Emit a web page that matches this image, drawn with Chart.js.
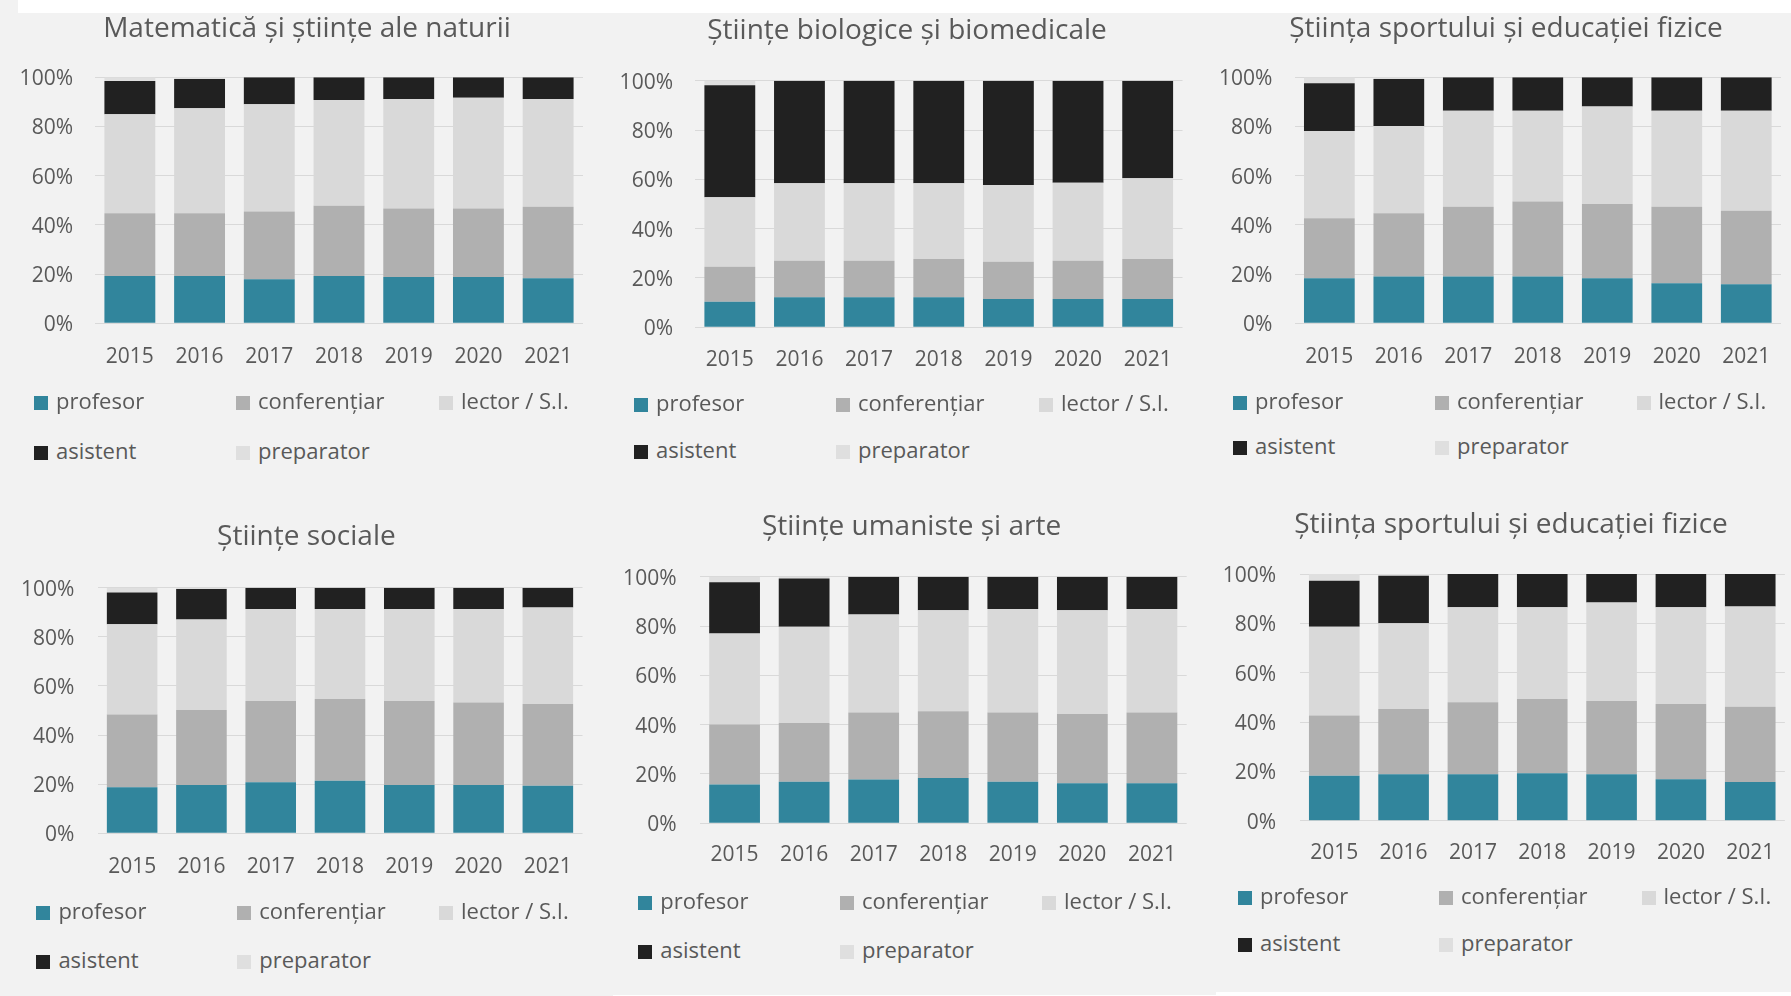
<!doctype html>
<html lang="ro">
<head>
<meta charset="utf-8">
<title>Personal didactic pe domenii 2015-2021</title>
<style>
  html, body { margin: 0; padding: 0; }
  body { width: 1791px; height: 996px; position: relative; overflow: hidden; background: #f2f2f2; font-family: "Open Sans", sans-serif; }
  .strip { position: absolute; background: #ffffff; }
  .panel { position: absolute; }
  .title { position: absolute; width: 600px; text-align: center; color: #595959; font-size: 28px; line-height: 34px; white-space: nowrap; }
  .leg { position: absolute; height: 24px; color: #595959; font-size: 22px; white-space: nowrap; }
  .leg .box { position: absolute; left: 0; top: 8px; width: 14px; height: 14px; }
  .leg .txt { position: absolute; left: 22px; top: 0; line-height: 24px; }
</style>
</head>
<body>
<div class="strip" style="left:18px;top:0;width:1773px;height:13px"></div>
<div class="strip" style="left:613px;top:995px;width:603px;height:1px"></div>
<div class="strip" style="left:1216px;top:992px;width:575px;height:4px"></div>

<script src="https://cdn.jsdelivr.net/npm/chart.js"></script>
<script>
// --- data (procente) ---
const years = ['2015', '2016', '2017', '2018', '2019', '2020', '2021'];
const seriesNames = ['profesor', 'conferențiar', 'lector / S.I.', 'asistent', 'preparator'];
const yTicks = [0, 20, 40, 60, 80, 100];

// ordinea: profesor, conferențiar, lector, asistent, preparator
const matematica = [
  [19.2, 19.2, 17.9, 19.2, 18.8, 18.8, 18.3],
  [25.5, 25.5, 27.5, 28.6, 27.9, 27.9, 29.1],
  [40.3, 42.7, 43.6, 43.0, 44.5, 45.0, 43.8],
  [13.5, 11.9, 11.0, 9.2, 8.8, 8.3, 8.8],
  [1.5, 0.7, 0, 0, 0, 0, 0]
];
const biologice = [
  [10.4, 12.2, 12.2, 12.2, 11.5, 11.5, 11.5],
  [14.2, 14.8, 14.8, 15.5, 15.1, 15.5, 16.2],
  [28.1, 31.4, 31.4, 30.7, 31.1, 31.6, 32.7],
  [45.5, 41.6, 41.6, 41.6, 42.3, 41.4, 39.6],
  [1.8, 0, 0, 0, 0, 0, 0]
];
const sport1 = [
  [18.3, 19.0, 19.0, 19.0, 18.3, 16.3, 15.9],
  [24.4, 25.7, 28.4, 30.5, 30.2, 31.1, 29.9],
  [35.5, 35.5, 39.0, 36.9, 39.6, 39.0, 40.6],
  [19.4, 19.1, 13.6, 13.6, 11.9, 13.6, 13.6],
  [2.4, 0.7, 0, 0, 0, 0, 0]
];
const sociale = [
  [18.7, 19.7, 20.8, 21.4, 19.7, 19.7, 19.4],
  [29.7, 30.5, 33.1, 33.3, 34.2, 33.6, 33.2],
  [36.7, 36.9, 37.4, 36.6, 37.4, 38.0, 39.3],
  [12.9, 12.4, 8.7, 8.7, 8.7, 8.7, 8.1],
  [2.0, 0.5, 0, 0, 0, 0, 0]
];
const umaniste = [
  [15.7, 16.8, 17.8, 18.4, 16.8, 16.2, 16.2],
  [24.4, 23.9, 27.1, 27.0, 28.1, 28.1, 28.7],
  [36.9, 39.0, 39.8, 41.0, 42.0, 42.1, 42.0],
  [20.7, 19.6, 15.3, 13.6, 13.1, 13.6, 13.1],
  [2.3, 0.7, 0, 0, 0, 0, 0]
];
const sport2 = [
  [18.2, 18.8, 18.8, 19.2, 18.8, 16.8, 15.7],
  [24.4, 26.5, 29.2, 30.1, 29.7, 30.5, 30.5],
  [36.0, 34.7, 38.5, 37.2, 39.9, 39.2, 40.6],
  [18.7, 19.3, 13.5, 13.5, 11.6, 13.5, 13.2],
  [2.7, 0.7, 0, 0, 0, 0, 0]
];

// --- stil ---
const colors = ['#31859c', '#b0b0b0', '#d9d9d9', '#212121', '#dfdfdf'];
const textColor = '#595959';
const FONT = '"Open Sans", sans-serif';
const TICK_SIZE = 21;

// pozitia fiecarui panou in imagine
const panels = [
  { title: 'Matematică și științe ale naturii', values: matematica,
    plotL: 95, plotR: 583, plotT: 77.3, plotB: 323.3, titleX: 307, titleY: 27, yLabR: 73, xLabY: 356,
    legX: [34, 236, 439], legY: [403, 453] },
  { title: 'Științe biologice și biomedicale', values: biologice,
    plotL: 695, plotR: 1182.5, plotT: 80.7, plotB: 327.3, titleX: 907, titleY: 29.3, yLabR: 673, xLabY: 358.3,
    legX: [634, 836, 1039], legY: [405, 452] },
  { title: 'Știința sportului și educației fizice', values: sport1,
    plotL: 1294.6, plotR: 1781, plotT: 77.3, plotB: 323.3, titleX: 1506, titleY: 26.5, yLabR: 1272.4, xLabY: 356,
    legX: [1233, 1435, 1636.5], legY: [402.7, 448.3] },
  { title: 'Științe sociale', values: sociale,
    plotL: 97.5, plotR: 582.5, plotT: 587.7, plotB: 833.3, titleX: 306.4, titleY: 535, yLabR: 74.3, xLabY: 865.7,
    legX: [36.4, 237.2, 439], legY: [913.3, 961.7] },
  { title: 'Științe umaniste și arte', values: umaniste,
    plotL: 699.8, plotR: 1186.7, plotT: 576.7, plotB: 823.3, titleX: 911.5, titleY: 525, yLabR: 676.5, xLabY: 854,
    legX: [638.3, 840, 1042], legY: [902.7, 951.7] },
  { title: 'Știința sportului și educației fizice', values: sport2,
    plotL: 1299.6, plotR: 1784.9, plotT: 574, plotB: 820.7, titleX: 1511, titleY: 523, yLabR: 1276.2, xLabY: 851.7,
    legX: [1238, 1439, 1641.5], legY: [898.3, 945] }
];

function makeTitle(p) {
  const t = document.createElement('div');
  t.className = 'title';
  t.style.left = (p.titleX - 300) + 'px';
  t.style.top = (p.titleY - 18) + 'px';
  t.textContent = p.title;
  document.body.appendChild(t);
}

function makeLegend(p) {
  seriesNames.forEach((name, i) => {
    const item = document.createElement('div');
    item.className = 'leg';
    item.style.left = p.legX[i % 3] + 'px';
    item.style.top = (p.legY[Math.floor(i / 3)] - 15) + 'px';
    const box = document.createElement('span');
    box.className = 'box';
    box.style.background = colors[i];
    const txt = document.createElement('span');
    txt.className = 'txt';
    txt.textContent = name;
    item.appendChild(box);
    item.appendChild(txt);
    document.body.appendChild(item);
  });
}

function makePanel(p) {
  const tickLine = TICK_SIZE * 1.2;
  const yPad = p.plotL - p.yLabR;
  // Chart.js pads the y scale by half a label plus ticks.padding, so leave room above
  const ct = Math.round(p.plotT - 42);
  const padTop = p.plotT - ct;
  const xPad = p.xLabY + 1.5 - p.plotB - tickLine / 2;
  const cl = Math.floor(p.yLabR - 62);
  const cw = Math.ceil(p.plotR + 16 - cl);
  const padRight = cl + cw - p.plotR;
  // x axis height in Chart.js = label line + 2 * padding
  const ch = Math.round(p.plotB - ct + 2 * xPad + tickLine + 4);
  const padBottom = ch - (p.plotB - ct) - 2 * xPad - tickLine;

  const div = document.createElement('div');
  div.className = 'panel';
  div.style.left = cl + 'px';
  div.style.top = ct + 'px';
  div.style.width = cw + 'px';
  div.style.height = ch + 'px';
  const canvas = document.createElement('canvas');
  div.appendChild(canvas);
  document.body.appendChild(div);

  new Chart(canvas, {
    type: 'bar',
    data: {
      labels: years,
      datasets: seriesNames.map((name, i) => ({
        label: name,
        data: p.values[i],
        backgroundColor: colors[i],
        borderWidth: 0,
        categoryPercentage: 1,
        barPercentage: 0.73
      }))
    },
    options: {
      responsive: true,
      maintainAspectRatio: false,
      animation: false,
      layout: { padding: { left: 0, right: padRight, top: padTop, bottom: padBottom } },
      plugins: {
        legend: { display: false },
        tooltip: { enabled: false },
        title: { display: false }
      },
      scales: {
        x: {
          stacked: true,
          grid: { display: false, drawTicks: false },
          border: { display: false },
          ticks: { color: textColor, font: { family: FONT, size: TICK_SIZE }, padding: xPad, maxRotation: 0 }
        },
        y: {
          stacked: true,
          min: yTicks[0],
          max: yTicks[yTicks.length - 1],
          grid: { color: '#d9d9d9', lineWidth: 1, drawTicks: false },
          border: { display: false },
          afterBuildTicks: s => { s.ticks = yTicks.map(v => ({ value: v })); },
          afterFit: s => { s.width = p.plotL - cl; },
          ticks: {
            color: textColor,
            font: { family: FONT, size: TICK_SIZE },
            padding: yPad,
            labelOffset: 2,
            callback: v => v + '%'
          }
        }
      }
    }
  });
  makeTitle(p);
  makeLegend(p);
}

panels.forEach(makePanel);
</script>
</body>
</html>
